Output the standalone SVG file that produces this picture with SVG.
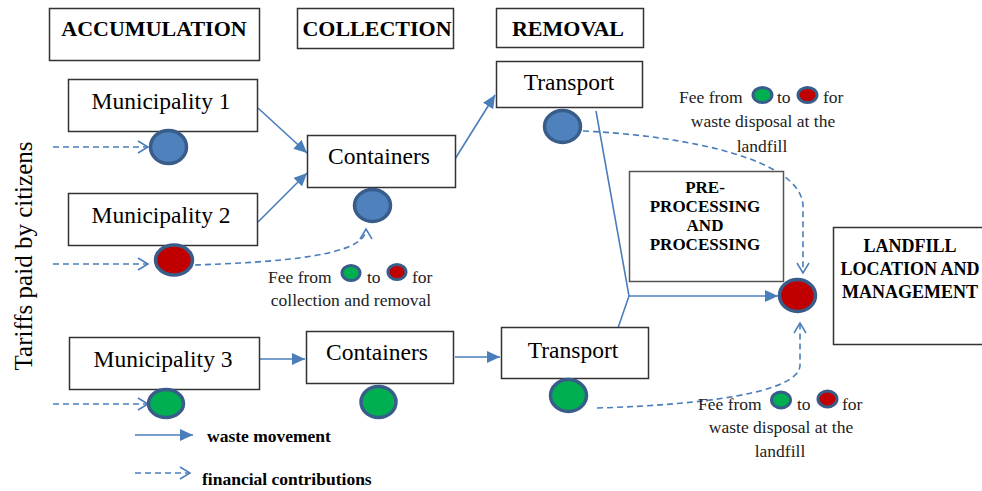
<svg xmlns="http://www.w3.org/2000/svg" width="982" height="491" viewBox="0 0 982 491">
<defs>
<marker id="arr" markerUnits="userSpaceOnUse" markerWidth="14" markerHeight="12" refX="13" refY="6" orient="auto">
<path d="M0,0 L13,6 L0,12 Z" fill="#4a7ebb"/>
</marker>
<marker id="open" markerUnits="userSpaceOnUse" markerWidth="14" markerHeight="14" refX="11" refY="7" orient="auto">
<path d="M1,1 L11,7 L1,13" fill="none" stroke="#4a7ebb" stroke-width="1.5"/>
</marker>
</defs>
<style>
.box{fill:#fff;stroke:#333;stroke-width:1.5}
.hdr{font-family:"Liberation Serif","Times New Roman",serif;font-weight:bold;font-size:22px;text-anchor:middle;fill:#000}
.lbl{font-family:"Liberation Serif","Times New Roman",serif;font-size:23.5px;text-anchor:middle;fill:#000}
.bl{font-family:"Liberation Serif","Times New Roman",serif;font-weight:bold;font-size:17px;text-anchor:middle;fill:#000}
.fee{font-family:"Liberation Serif","Times New Roman",serif;font-size:17.5px;fill:#222}
.leg{font-family:"Liberation Serif","Times New Roman",serif;font-weight:bold;font-size:17.5px;fill:#000}
.solid{fill:none;stroke:#4a7ebb;stroke-width:1.6;marker-end:url(#arr)}
.plain{fill:none;stroke:#4a7ebb;stroke-width:1.6}
.dash{fill:none;stroke:#4a7ebb;stroke-width:1.6;stroke-dasharray:6 4;marker-end:url(#open)}
.blue{fill:#4f81bd;stroke:#385d8a;stroke-width:3.5}
.red{fill:#c00000;stroke:#385d8a;stroke-width:3.5}
.green{fill:#00b050;stroke:#385d8a;stroke-width:3.5}
.sm{stroke-width:3}
</style>

<g id="hdr-accumulation"><rect class="box" x="49.5" y="8.5" width="210" height="52"/><text class="hdr" x="154" y="36">ACCUMULATION</text></g>
<g id="hdr-collection"><rect class="box" x="297.5" y="8.5" width="156" height="40"/><text class="hdr" x="377" y="36">COLLECTION</text></g>
<g id="hdr-removal"><rect class="box" x="496.5" y="8.5" width="147" height="39"/><text class="hdr" x="568" y="36">REMOVAL</text></g>

<g id="tariffs"><text class="lbl" style="font-size:25px" transform="translate(32,256) rotate(-90)">Tariffs paid by citizens</text></g>

<g id="connectors">
<line class="solid" x1="258" y1="108" x2="307" y2="153"/>
<line class="solid" x1="258" y1="222" x2="307" y2="173"/>
<line class="solid" x1="455" y1="159" x2="495" y2="95"/>
<polyline class="plain" points="596,111 629,296 618,328"/>
<line class="solid" x1="629" y1="296" x2="778" y2="296"/>
<line class="solid" x1="259" y1="359" x2="305" y2="359"/>
<line class="solid" x1="455" y1="357" x2="500" y2="357"/>
<line class="dash" x1="53" y1="147" x2="148" y2="147"/>
<line class="dash" x1="53" y1="264" x2="148" y2="264"/>
<line class="dash" x1="53" y1="404" x2="148" y2="404"/>
<path class="dash" d="M195,265 C280,262 366,256 366,229"/>
<path class="dash" d="M583,131 C690,136 800,160 803,205 L803,273"/>
<path class="dash" d="M597,408 C700,405 800,393 800,365 L800,323"/>
<line class="solid" x1="135" y1="435" x2="193" y2="435"/>
<line class="dash" x1="135" y1="473" x2="190" y2="473"/>
</g>

<g id="municipality1"><rect class="box" x="68.5" y="79.5" width="189" height="52"/><text class="lbl" x="161" y="109">Municipality 1</text></g>
<g id="municipality2"><rect class="box" x="68.5" y="193.5" width="189" height="52"/><text class="lbl" x="161" y="223">Municipality 2</text></g>
<g id="municipality3"><rect class="box" x="69.5" y="337.5" width="190" height="52"/><text class="lbl" x="163" y="367">Municipality 3</text></g>
<g id="containers1"><rect class="box" x="307.5" y="135.5" width="148" height="52"/><text class="lbl" x="379" y="164">Containers</text></g>
<g id="containers2"><rect class="box" x="306.5" y="331.5" width="147" height="52"/><text class="lbl" x="377" y="360">Containers</text></g>
<g id="transport1"><rect class="box" x="496.5" y="61.5" width="146" height="46"/><text class="lbl" x="569" y="90">Transport</text></g>
<g id="transport2"><rect class="box" x="501.5" y="327.5" width="147" height="51"/><text class="lbl" x="573" y="358">Transport</text></g>
<g id="preprocessing"><rect class="box" x="629.5" y="171.5" width="154" height="110" style="stroke:#555"/>
<text class="bl" x="705" y="193">PRE-</text><text class="bl" x="705" y="212">PROCESSING</text><text class="bl" x="705" y="231">AND</text><text class="bl" x="705" y="250">PROCESSING</text></g>
<g id="landfill"><rect class="box" x="833.5" y="227.5" width="150" height="117"/>
<text class="bl" x="910" y="252" style="font-size:18px">LANDFILL</text><text class="bl" x="910" y="275" style="font-size:18px">LOCATION AND</text><text class="bl" x="910" y="298" style="font-size:18px">MANAGEMENT</text></g>

<g id="coins">
<ellipse class="blue" cx="168.5" cy="147" rx="18" ry="16.5"/>
<ellipse class="red" cx="174" cy="260" rx="18.5" ry="15"/>
<ellipse class="green" cx="166" cy="403.5" rx="17.5" ry="14"/>
<ellipse class="blue" cx="372.5" cy="205.5" rx="18" ry="16"/>
<ellipse class="green" cx="378.5" cy="402" rx="17.5" ry="15.5"/>
<ellipse class="blue" cx="562.5" cy="126.5" rx="18" ry="16"/>
<ellipse class="green" cx="568.5" cy="395.5" rx="18" ry="16"/>
<ellipse class="red" cx="797.5" cy="295.5" rx="18" ry="16"/>
</g>

<g id="fee-collection">
<text class="fee" x="268" y="283">Fee from</text>
<ellipse class="green sm" cx="351" cy="273" rx="9" ry="7.5"/>
<text class="fee" x="367" y="283">to</text>
<ellipse class="red sm" cx="397" cy="272" rx="9" ry="7.5"/>
<text class="fee" x="412" y="283">for</text>
<text class="fee" x="351" y="306" text-anchor="middle">collection and removal</text>
</g>
<g id="fee-landfill-1">
<text class="fee" x="679" y="103">Fee from</text>
<ellipse class="green sm" cx="762.5" cy="95" rx="9.5" ry="7.5"/>
<text class="fee" x="777" y="103">to</text>
<ellipse class="red sm" cx="807.5" cy="95" rx="9.5" ry="7.5"/>
<text class="fee" x="823" y="103">for</text>
<text class="fee" x="763" y="127" text-anchor="middle">waste disposal at the</text>
<text class="fee" x="762" y="152" text-anchor="middle">landfill</text>
</g>
<g id="fee-landfill-2">
<text class="fee" x="698" y="410">Fee from</text>
<ellipse class="green sm" cx="781" cy="400" rx="9.5" ry="8"/>
<text class="fee" x="797" y="410">to</text>
<ellipse class="red sm" cx="827.5" cy="399" rx="9.5" ry="8"/>
<text class="fee" x="842" y="410">for</text>
<text class="fee" x="781" y="433" text-anchor="middle">waste disposal at the</text>
<text class="fee" x="780" y="457" text-anchor="middle">landfill</text>
</g>

<g id="legend">
<text class="leg" x="207" y="442">waste movement</text>
<text class="leg" x="202" y="485">financial contributions</text>
</g>
</svg>
